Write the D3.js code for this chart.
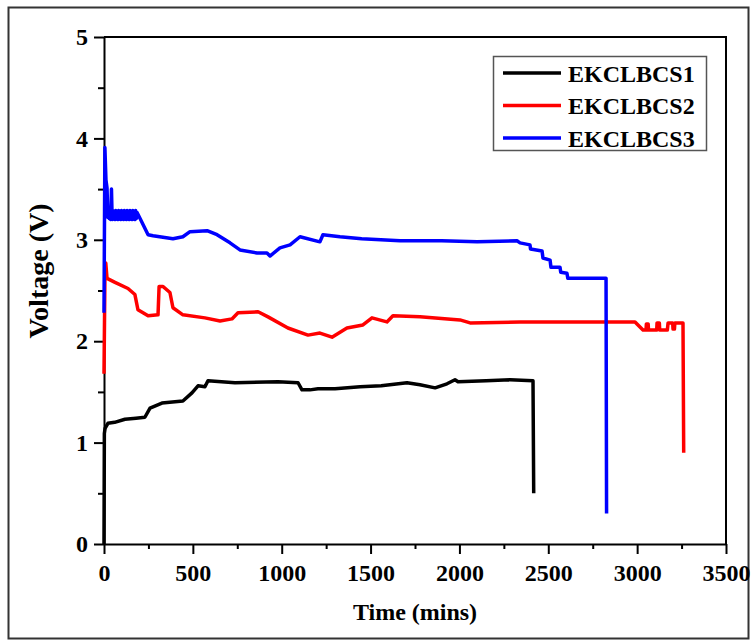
<!DOCTYPE html>
<html>
<head>
<meta charset="utf-8">
<script src="https://cdn.jsdelivr.net/npm/d3@7"></script>
<style>
  html, body { margin: 0; padding: 0; background: #fff; }
  svg { display: block; }
  text { font-family: "Liberation Serif", "Times New Roman", serif; font-weight: bold; fill: #000; }
</style>
</head>
<body>
<svg id="chart" width="752" height="641"></svg>
<script>
// Discharge curves: time (mins) vs voltage (V)
const seriesNames = ["EKCLBCS1", "EKCLBCS2", "EKCLBCS3"];
const seriesColors = ["#000000", "#ff0000", "#0000ff"];

const s1Time = [0, 2, 6, 22, 60, 118, 180, 230, 259, 326, 444, 495, 529, 568, 585, 737, 979, 1092, 1114, 1159, 1204, 1300, 1441, 1560, 1705, 1778, 1863, 1930, 1975, 1992, 2150, 2285, 2414, 2418];
const s1Volt = [0, 1.09, 1.14, 1.19, 1.2, 1.23, 1.24, 1.25, 1.34, 1.39, 1.41, 1.49, 1.56, 1.55, 1.61, 1.59, 1.6, 1.59, 1.52, 1.52, 1.53, 1.53, 1.55, 1.56, 1.59, 1.57, 1.54, 1.58, 1.62, 1.6, 1.61, 1.62, 1.61, 0.5];

const s2Time = [0, 5, 10, 17, 62, 135, 174, 191, 248, 304, 310, 332, 371, 388, 444, 568, 653, 720, 754, 867, 923, 1035, 1148, 1215, 1283, 1367, 1457, 1508, 1592, 1626, 1778, 2003, 2060, 2341, 2718, 2988, 3016, 3033, 3050, 3052, 3062, 3064, 3110, 3112, 3125, 3127, 3170, 3174, 3200, 3202, 3210, 3212, 3258, 3262];
const s2Volt = [1.68, 2.6, 2.77, 2.62, 2.58, 2.52, 2.46, 2.31, 2.25, 2.26, 2.54, 2.54, 2.48, 2.33, 2.26, 2.23, 2.2, 2.22, 2.28, 2.29, 2.24, 2.13, 2.06, 2.08, 2.04, 2.13, 2.16, 2.23, 2.19, 2.25, 2.24, 2.21, 2.18, 2.19, 2.19, 2.19, 2.14, 2.11, 2.11, 2.17, 2.17, 2.11, 2.11, 2.18, 2.18, 2.11, 2.11, 2.18, 2.18, 2.12, 2.12, 2.18, 2.18, 0.9];

const s3Time = [0, 5, 11, 17, 22, 26, 30, 34, 38, 42, 46, 50, 54, 58, 62, 66, 70, 74, 78, 82, 86, 90, 94, 98, 102, 106, 110, 114, 118, 122, 126, 130, 134, 138, 142, 146, 150, 154, 158, 162, 166, 170, 174, 178, 182, 186, 203, 248, 276, 388, 444, 484, 580, 636, 709, 765, 861, 917, 934, 990, 1047, 1103, 1215, 1232, 1328, 1450, 1666, 1900, 2100, 2324, 2341, 2397, 2400, 2465, 2470, 2510, 2515, 2566, 2570, 2605, 2610, 2825, 2828];
const s3Volt = [2.28, 3.91, 3.59, 3.51, 3.22, 3.29, 3.21, 3.28, 3.2, 3.5, 3.2, 3.29, 3.21, 3.28, 3.2, 3.29, 3.21, 3.28, 3.2, 3.29, 3.21, 3.28, 3.2, 3.29, 3.21, 3.28, 3.2, 3.29, 3.21, 3.28, 3.2, 3.29, 3.21, 3.28, 3.2, 3.29, 3.21, 3.28, 3.2, 3.29, 3.21, 3.28, 3.2, 3.29, 3.21, 3.27, 3.21, 3.05, 3.04, 3.01, 3.03, 3.08, 3.09, 3.05, 2.97, 2.9, 2.87, 2.87, 2.84, 2.92, 2.95, 3.03, 2.98, 3.05, 3.03, 3.01, 2.99, 2.99, 2.98, 2.99, 2.97, 2.95, 2.91, 2.89, 2.82, 2.8, 2.73, 2.73, 2.68, 2.67, 2.62, 2.62, 0.3];

const xTicks = [0, 500, 1000, 1500, 2000, 2500, 3000, 3500];
const yTicks = [0, 1, 2, 3, 4, 5];

const svg = d3.select("#chart");

// outer frame
svg.append("rect")
  .attr("x", 8.5).attr("y", 7.5).attr("width", 740).attr("height", 631)
  .attr("fill", "none").attr("stroke", "#333").attr("stroke-width", 2);

const plot = { left: 104, right: 726, top: 37, bottom: 544 };

const x = d3.scaleLinear().domain([0, 3500]).range([plot.left, plot.right]);
const y = d3.scaleLinear().domain([0, 5]).range([plot.bottom, plot.top]);

// minor ticks
svg.append("g")
  .attr("transform", `translate(0,${plot.bottom})`)
  .call(d3.axisBottom(x).tickValues(d3.range(250, 3500, 500)).tickSize(5).tickFormat(""))
  .call(g => g.select(".domain").remove())
  .call(g => g.selectAll("line").attr("stroke", "#000").attr("stroke-width", 2));
svg.append("g")
  .attr("transform", `translate(${plot.left},0)`)
  .call(d3.axisLeft(y).tickValues(d3.range(0.5, 5, 1)).tickSize(6).tickFormat(""))
  .call(g => g.select(".domain").remove())
  .call(g => g.selectAll("line").attr("stroke", "#000").attr("stroke-width", 2));

// major axes
const xAxis = svg.append("g")
  .attr("transform", `translate(0,${plot.bottom})`)
  .call(d3.axisBottom(x).tickValues(xTicks).tickSize(10).tickSizeOuter(0).tickPadding(10).tickFormat(d3.format("d")));
const yAxis = svg.append("g")
  .attr("transform", `translate(${plot.left},0)`)
  .call(d3.axisLeft(y).tickValues(yTicks).tickSize(10).tickSizeOuter(0).tickPadding(6).tickFormat(d3.format("d")));

[xAxis, yAxis].forEach(g => {
  g.select(".domain").attr("stroke", "#000").attr("stroke-width", 2);
  g.selectAll(".tick line").attr("stroke", "#000").attr("stroke-width", 2);
  g.selectAll(".tick text")
    .attr("font-family", "'Liberation Serif', 'Times New Roman', serif")
    .attr("font-weight", "bold").attr("font-size", 24).attr("fill", "#000");
});

// top and right frame lines
svg.append("path")
  .attr("d", `M${plot.left},${plot.top}H${plot.right}V${plot.bottom}`)
  .attr("fill", "none").attr("stroke", "#000").attr("stroke-width", 2);

// series
const allSeries = [
  { t: s1Time, v: s1Volt },
  { t: s2Time, v: s2Volt },
  { t: s3Time, v: s3Volt }
];
const line = d3.line().x(d => x(d[0])).y(d => y(d[1]));

// draw order: red, blue, black keeps the start verticals visible
[1, 2, 0].forEach(i => {
  const s = allSeries[i];
  const pts = s.t.map((t, k) => [t, s.v[k]]);
  svg.append("path")
    .datum(pts)
    .attr("d", line)
    .attr("fill", "none")
    .attr("stroke", seriesColors[i])
    .attr("stroke-width", 3.5)
    .attr("stroke-linejoin", "round");
});

// axis titles
svg.append("text")
  .attr("x", (plot.left + plot.right) / 2).attr("y", 620)
  .attr("text-anchor", "middle").attr("font-size", 24)
  .text("Time (mins)");
svg.append("text")
  .attr("transform", `translate(48,271) rotate(-90)`)
  .attr("text-anchor", "middle").attr("font-size", 28)
  .text("Voltage (V)");

// legend
const legend = svg.append("g");
legend.append("rect")
  .attr("x", 493.5).attr("y", 56.5).attr("width", 213).attr("height", 94)
  .attr("fill", "#fff").attr("stroke", "#555").attr("stroke-width", 1.5);
seriesNames.forEach((name, i) => {
  const ly = 73 + i * 32.5;
  legend.append("line")
    .attr("x1", 503).attr("x2", 561).attr("y1", ly).attr("y2", ly)
    .attr("stroke", seriesColors[i]).attr("stroke-width", 3.5);
  legend.append("text")
    .attr("x", 568).attr("y", ly + 8.5)
    .attr("font-size", 24)
    .text(name);
});
</script>
</body>
</html>
